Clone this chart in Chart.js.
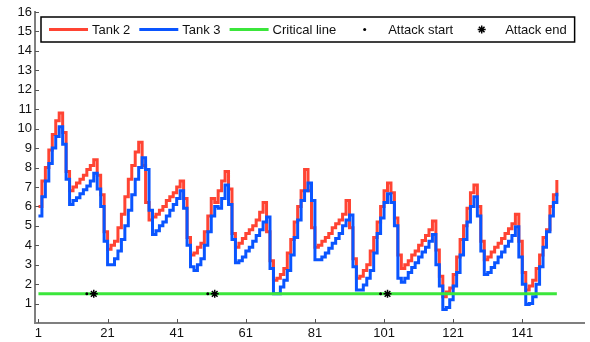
<!DOCTYPE html>
<html>
<head>
<meta charset="utf-8">
<script src="https://cdn.jsdelivr.net/npm/chart.js@4.4.1/dist/chart.umd.min.js"></script>
<style>
  html, body { margin: 0; padding: 0; background: #fff; }
</style>
</head>
<body>
<canvas id="tankChart" width="590" height="342"></canvas>
<script>
// water level of each tank, one value per time step (step 1 .. 151)
const tank2 = [
  6.0, 7.3, 8.0, 8.9, 9.7, 10.4, 10.8, 9.8, 7.8, 6.8,
  7.0, 7.2, 7.4, 7.6, 7.9, 8.1, 8.4, 7.6, 6.6, 4.7,
  3.8, 4.0, 4.2, 4.9, 5.6, 6.5, 7.4, 8.1, 8.8, 9.3,
  8.1, 6.2, 5.3, 5.45, 5.6, 5.8, 6.0, 6.3, 6.5, 6.7,
  7.0, 7.3, 6.4, 4.4, 3.5, 3.6, 3.9, 4.1, 4.7, 5.5,
  6.4, 6.2, 6.8, 7.3, 7.8, 6.9, 4.6, 3.9, 4.1, 4.35,
  4.6, 4.8, 5.0, 5.3, 5.7, 6.2, 4.7, 3.2, 2.2, 2.3,
  2.5, 2.8, 3.6, 4.3, 5.2, 6.0, 6.8, 7.9, 6.8, 4.9,
  3.9, 4.0, 4.2, 4.4, 4.6, 4.9, 5.1, 5.3, 5.6, 6.3,
  4.9, 3.3, 2.3, 2.4, 2.7, 3.0, 3.7, 4.4, 5.2, 6.0,
  6.8, 7.2, 6.7, 5.4, 3.5, 2.8, 3.0, 3.2, 3.5, 3.7,
  4.0, 4.25, 4.5, 4.8, 5.25, 3.75, 2.4, 1.35, 1.6, 1.8,
  2.5, 3.4, 4.3, 5.0, 5.9, 6.7, 7.1, 6.0, 4.2, 3.25,
  3.4, 3.65, 3.9, 4.1, 4.35, 4.6, 4.85, 5.1, 5.6, 4.2,
  2.6, 1.7, 1.9, 2.2, 2.8, 3.5, 4.4, 4.8, 6.0, 6.6,
  7.36
];
const tank3 = [
  5.5, 6.5, 7.3, 8.2, 9.0, 9.6, 10.1, 9.2, 7.4, 6.1,
  6.3, 6.45, 6.65, 6.85, 7.05, 7.3, 7.7, 6.9, 6.0, 4.2,
  3.0, 3.0, 3.3, 3.7, 4.3, 5.0, 5.8, 6.6, 7.4, 8.0,
  8.5, 7.9, 5.8, 4.55, 4.75, 5.0, 5.2, 5.5, 5.8, 6.1,
  6.4, 6.8, 5.9, 4.0, 2.9, 2.7, 3.0, 3.3, 4.0, 4.7,
  5.5, 6.0, 5.9, 6.4, 7.1, 6.1, 4.3, 3.1, 3.2, 3.4,
  3.7, 3.9, 4.2, 4.5, 4.8, 5.2, 5.45, 2.8, 1.5, 1.5,
  1.85, 2.2, 2.7, 3.5, 4.4, 5.3, 6.3, 6.8, 7.2, 6.3,
  3.25, 3.25, 3.4, 3.6, 3.85, 4.1, 4.35, 4.6, 5.0, 5.3,
  5.55, 2.9, 1.7, 1.7, 1.95, 2.3, 2.7, 3.6, 4.6, 5.4,
  6.2, 6.65, 6.2, 5.0, 2.3, 2.1, 2.3, 2.6, 2.85, 3.1,
  3.4, 3.65, 3.9, 4.2, 4.55, 3.0, 1.9, 0.7, 0.8, 1.2,
  1.9, 2.6, 3.5, 4.3, 5.2, 6.0, 6.5, 5.5, 3.7, 2.5,
  2.6, 2.85, 3.1, 3.4, 3.65, 3.95, 4.2, 4.5, 4.95, 3.4,
  2.0, 0.95, 1.0, 1.35, 2.0, 2.9, 3.9, 4.7, 5.5, 6.2,
  6.7
];

const criticalLevel = 1.5;
const criticalRange = [1, 151];
const attackStart = [15, 50, 100];
const attackEnd = [17, 52, 102];

const xTicks = [1, 21, 41, 61, 81, 101, 121, 141];
const yTicks = [1, 2, 3, 4, 5, 6, 7, 8, 9, 10, 11, 12, 13, 14, 15, 16];

const FONT = '"Liberation Sans", Arial, Helvetica, sans-serif';
const AXIS_COLOR = '#7f7f7f';

const toPoints = arr => arr.map((v, i) => ({ x: i + 1, y: v }));

// short tick marks pointing into the plot
const innerTicks = {
  id: 'innerTicks',
  afterDatasetsDraw(chart) {
    const { ctx, chartArea, scales } = chart;
    ctx.save();
    ctx.strokeStyle = '#555';
    ctx.lineWidth = 1;
    ctx.beginPath();
    scales.x.ticks.forEach(t => {
      const px = Math.round(scales.x.getPixelForValue(t.value)) + 0.5;
      ctx.moveTo(px, chartArea.bottom);
      ctx.lineTo(px, chartArea.bottom - 4);
    });
    scales.y.ticks.forEach(t => {
      const py = Math.round(scales.y.getPixelForValue(t.value)) + 0.5;
      ctx.moveTo(chartArea.left, py);
      ctx.lineTo(chartArea.left + 4, py);
    });
    ctx.stroke();
    ctx.restore();
  }
};

function drawStar(ctx, x, y, r) {
  ctx.beginPath();
  for (let a = 0; a < 4; a++) {
    const ang = a * Math.PI / 4;
    ctx.moveTo(x - r * Math.cos(ang), y - r * Math.sin(ang));
    ctx.lineTo(x + r * Math.cos(ang), y + r * Math.sin(ang));
  }
  ctx.stroke();
}

// boxed legend in one row at the top of the plot
const boxLegend = {
  id: 'boxLegend',
  afterDatasetsDraw(chart) {
    const ctx = chart.ctx;
    const sets = chart.data.datasets;
    const left = 41, top = 17, height = 25;
    const mid = top + height / 2;
    const sample = 39, textGap = 4, itemGap = 9;

    ctx.save();
    ctx.font = '13px ' + FONT;
    let x = 49;
    const layout = sets.map(ds => {
      const w = ctx.measureText(ds.label).width;
      const item = { ds, x, textX: x + sample + textGap };
      x = item.textX + w + itemGap;
      return item;
    });
    const right = x - itemGap + 8;

    ctx.fillStyle = '#fff';
    ctx.fillRect(left, top, right - left, height);
    ctx.strokeStyle = '#000';
    ctx.lineWidth = 1.5;
    ctx.strokeRect(left, top, right - left, height);

    layout.forEach(({ ds, x, textX }) => {
      const cx = x + sample / 2;
      if (ds.showLine === false) {
        if (ds.pointStyle === 'star') {
          ctx.strokeStyle = '#000';
          ctx.lineWidth = 1.5;
          drawStar(ctx, cx, mid, 4);
        } else {
          ctx.fillStyle = '#000';
          ctx.beginPath();
          ctx.arc(cx, mid, 1.5, 0, Math.PI * 2);
          ctx.fill();
        }
      } else {
        ctx.strokeStyle = ds.borderColor;
        ctx.lineWidth = 3;
        ctx.beginPath();
        ctx.moveTo(x, mid);
        ctx.lineTo(x + sample, mid);
        ctx.stroke();
      }
      ctx.fillStyle = '#111';
      ctx.textBaseline = 'middle';
      ctx.fillText(ds.label, textX, mid + 0.5);
    });
    ctx.restore();
  }
};

new Chart(document.getElementById('tankChart'), {
  type: 'line',
  data: {
    datasets: [
      {
        label: 'Tank 2',
        data: toPoints(tank2),
        borderColor: '#ff4433',
        borderWidth: 3,
        stepped: true,
        pointRadius: 0,
        order: 4
      },
      {
        label: 'Tank 3',
        data: toPoints(tank3),
        borderColor: '#0a55ff',
        borderWidth: 3,
        stepped: true,
        pointRadius: 0,
        order: 3
      },
      {
        label: 'Critical line',
        data: criticalRange.map(x => ({ x, y: criticalLevel })),
        borderColor: '#3be63b',
        borderWidth: 3,
        pointRadius: 0,
        order: 2
      },
      {
        label: 'Attack start',
        data: attackStart.map(x => ({ x, y: criticalLevel })),
        showLine: false,
        pointStyle: 'circle',
        pointRadius: 1.5,
        backgroundColor: '#000',
        borderColor: '#000',
        borderWidth: 0,
        order: 1
      },
      {
        label: 'Attack end',
        data: attackEnd.map(x => ({ x, y: criticalLevel })),
        showLine: false,
        pointStyle: 'star',
        pointRadius: 4,
        borderColor: '#000',
        borderWidth: 1.5,
        order: 0
      }
    ]
  },
  options: {
    responsive: false,
    animation: false,
    layout: { padding: { top: 12, right: 0, bottom: 0, left: 0 } },
    plugins: {
      legend: { display: false },
      tooltip: { enabled: false }
    },
    scales: {
      x: {
        type: 'linear',
        min: 0,
        max: 159,
        afterBuildTicks: s => { s.ticks = xTicks.map(v => ({ value: v })); },
        afterFit: s => { s.height = 19; },
        grid: { display: false, drawTicks: false },
        border: { display: true, color: AXIS_COLOR, width: 2 },
        ticks: {
          padding: 3,
          color: '#111',
          autoSkip: false,
          maxRotation: 0,
          font: { family: FONT, size: 13 }
        }
      },
      y: {
        min: 0,
        max: 16,
        afterBuildTicks: s => { s.ticks = yTicks.map(v => ({ value: v })); },
        afterFit: s => { s.width = 35; },
        grid: { display: false, drawTicks: false },
        border: { display: true, color: AXIS_COLOR, width: 2 },
        ticks: {
          padding: 3,
          color: '#111',
          autoSkip: false,
          font: { family: FONT, size: 13 }
        }
      }
    }
  },
  plugins: [innerTicks, boxLegend]
});
</script>
</body>
</html>
